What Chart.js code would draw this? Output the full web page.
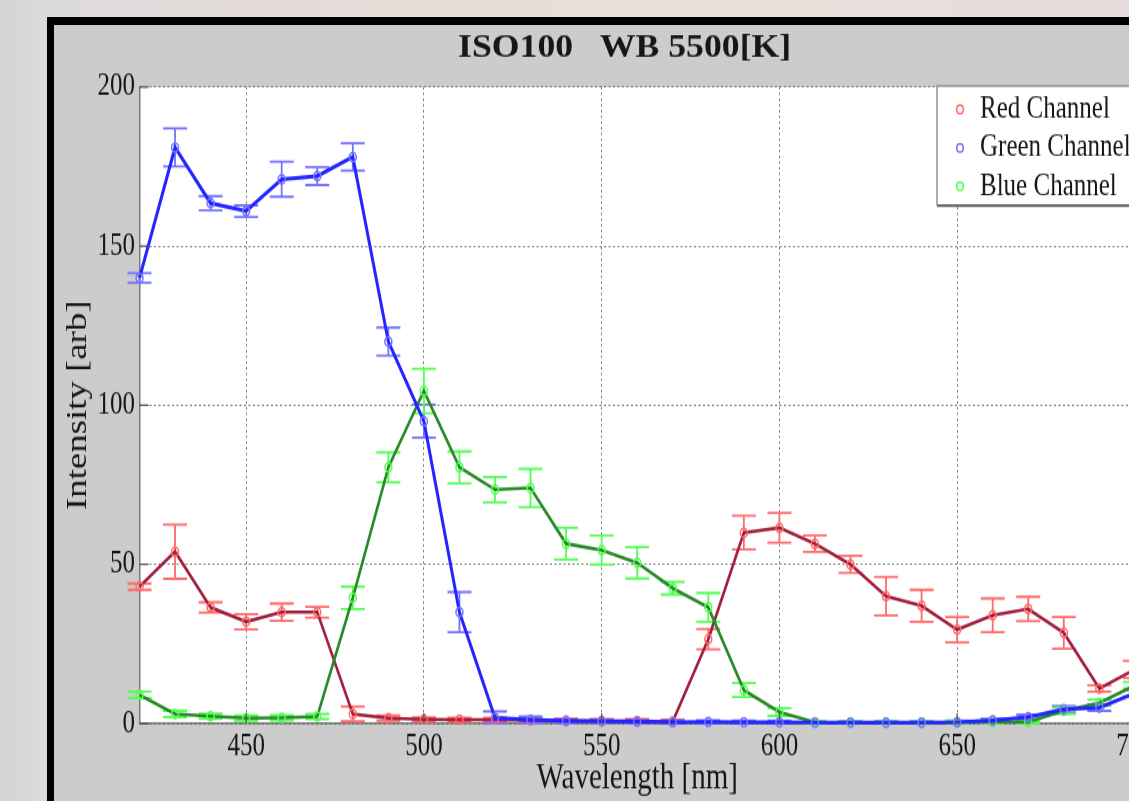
<!DOCTYPE html>
<html>
<head>
<meta charset="utf-8">
<script src="https://cdn.jsdelivr.net/npm/chart.js@4.4.0/dist/chart.umd.min.js"></script>
<style>
  html, body { margin: 0; padding: 0; width: 1129px; height: 801px; overflow: hidden; }
  body {
    position: relative;
    background: linear-gradient(to right, #d3d3d3 0px, #dcdada 40px, #e7dcd8 400px, #eadfdb 800px, #e4dcdb 1129px);
  }
  #frame {
    position: absolute; left: 47px; top: 17px; width: 1200px; height: 900px;
    background: #cccccc; border-left: 7px solid #000; border-top: 8px solid #000;
  }
  /* the source picture is stretched vertically, so the canvas is too */
  #chart {
    position: absolute; left: 0; top: 0; width: 1141px; height: 611px;
    transform: scaleY(1.27); transform-origin: 0 0;
  }
</style>
</head>
<body>
<div id="frame"><canvas id="chart" width="1141" height="611"></canvas></div>
<script>
// ---- data ----
const wavelengths = [420, 430, 440, 450, 460, 470, 480, 490, 500, 510, 520, 530, 540, 550, 560,
                     570, 580, 590, 600, 610, 620, 630, 640, 650, 660, 670, 680, 690, 700];
const xTicks = [450, 500, 550, 600, 650, 700];
const yTicks = [0, 50, 100, 150, 200];

const redChannel   = [43, 54, 36.5, 32, 35, 35, 3, 1.7, 1.3, 1.2, 1.2, 1.0, 0.9, 0.8, 0.8,
                      0.6, 26.5, 60, 61.5, 56.5, 50, 40, 37, 29.5, 34, 36, 28.5, 11, 17];
const redErr       = [1, 8.5, 1.6, 2.4, 2.7, 1.7, 2.3, 0.8, 0.6, 0.6, 0.6, 0.6, 0.6, 0.6, 0.6,
                      0.6, 3.2, 5.3, 4.7, 2.6, 2.7, 6, 5, 4, 5.3, 3.8, 5, 1, 2.7];

const greenChannel = [140, 181, 163.5, 161, 171, 172, 178, 120, 95, 35, 1.8, 1.2, 0.8, 0.7, 0.6,
                      0.4, 0.5, 0.4, 0.4, 0.3, 0.3, 0.3, 0.3, 0.4, 1, 2, 4.5, 5, 9.5];
const greenErr     = [1.5, 6, 2.2, 1.8, 5.5, 2.8, 4.3, 4.4, 5.2, 6.3, 2, 1, 0.5, 0.5, 0.5,
                      0.5, 0.5, 0.5, 0.5, 0.5, 0.5, 0.5, 0.5, 0.5, 0.5, 0.8, 1, 1, 1];

const blueChannel  = [9, 3, 2.3, 1.7, 1.8, 2.2, 39.5, 80.5, 104.5, 80.5, 73.5, 74, 56.5, 54.5, 50.5,
                      42.5, 36.5, 10.5, 3.6, 0.4, 0.3, 0.3, 0.3, 0.4, 0.5, 0.5, 4, 6.5, 12];
const blueErr      = [1, 1, 0.8, 0.8, 0.8, 0.8, 3.5, 4.7, 7, 5, 4, 6, 5, 4.6, 4.9,
                      2, 4.5, 2.2, 1.2, 0.4, 0.4, 0.4, 0.4, 0.4, 0.4, 0.4, 1, 1, 1];

const seriesNames = ['Red Channel', 'Green Channel', 'Blue Channel'];
const chartTitle = 'ISO100   WB 5500[K]';
const xTitle = 'Wavelength [nm]';
const yTitle = 'Intensity [arb]';

// ---- styling ----
const SERIF = '"Liberation Serif", "Times New Roman", serif';
const TEXT = '#161616';
const GRID = 'rgba(85,85,85,0.8)';
const AXIS = '#7a7a7a';

const makeSet = (label, vals, errs, line, light, width, order) => ({
    label,
    data: wavelengths.map((w, i) => ({ x: w, y: vals[i] })),
    errors: errs,
    lightColor: light,
    borderColor: line,
    borderWidth: width,
    pointRadius: 3.5,
    pointBorderWidth: 1.5,
    pointBorderColor: light,
    pointBackgroundColor: 'rgba(0,0,0,0)',
    tension: 0,
    clip: false,
    order
});

// white plot area
const plotBg = {
    id: 'plotBg',
    beforeDraw(chart) {
        const { ctx, chartArea: a } = chart;
        ctx.save();
        ctx.fillStyle = '#ffffff';
        ctx.fillRect(a.left, a.top, a.right - a.left, a.bottom - a.top);
        ctx.restore();
    }
};

// error bars from the errors arrays, through the chart scales
const errorBars = {
    id: 'errorBars',
    beforeDatasetsDraw(chart) {
        const { ctx, scales: { x, y } } = chart;
        ctx.save();
        chart.data.datasets.forEach(ds => {
            ctx.strokeStyle = ds.lightColor;
            ctx.lineWidth = 1.8;
            ds.data.forEach((p, i) => {
                const e = ds.errors[i];
                const px = x.getPixelForValue(p.x);
                const top = y.getPixelForValue(p.y + e);
                const bot = y.getPixelForValue(Math.max(p.y - e, 0));
                ctx.beginPath();
                ctx.moveTo(px, top); ctx.lineTo(px, bot);
                ctx.moveTo(px - 12, top); ctx.lineTo(px + 12, top);
                ctx.moveTo(px - 12, bot); ctx.lineTo(px + 12, bot);
                ctx.stroke();
            });
        });
        ctx.restore();
    }
};

// inward tick marks like matlab
const innerTicks = {
    id: 'innerTicks',
    afterDatasetsDraw(chart) {
        const { ctx, chartArea: a, scales: { x, y } } = chart;
        ctx.save();
        ctx.strokeStyle = '#555';
        ctx.lineWidth = 1.3;
        ctx.beginPath();
        yTicks.forEach(v => { const py = y.getPixelForValue(v); ctx.moveTo(a.left, py); ctx.lineTo(a.left + 9, py); });
        xTicks.forEach(v => { const px = x.getPixelForValue(v); ctx.moveTo(px, a.bottom); ctx.lineTo(px, a.bottom - 8); });
        ctx.stroke();
        ctx.restore();
    }
};

// boxed legend inside the top right corner
const boxLegend = {
    id: 'boxLegend',
    afterDraw(chart) {
        const { ctx, chartArea: a } = chart;
        const left = 883, top = a.top - 0.8, w = a.right - 4 - left, h = 93.7;
        ctx.save();
        ctx.fillStyle = '#fff';
        ctx.fillRect(left, top, w, h);
        ctx.strokeStyle = '#8c8c8c';
        ctx.lineWidth = 1.4;
        ctx.strokeRect(left, top, w, h);
        ctx.strokeStyle = '#5a5a5a';
        ctx.beginPath(); ctx.moveTo(left, top + h + 0.8); ctx.lineTo(left + w, top + h + 0.8); ctx.stroke();
        ctx.font = '25px ' + SERIF;
        ctx.textAlign = 'left';
        ctx.textBaseline = 'middle';
        chart.data.datasets.forEach((ds, i) => {
            const ry = top + 18.4 + i * 30.3;
            ctx.strokeStyle = ds.lightColor;
            ctx.lineWidth = 1.5;
            ctx.beginPath(); ctx.arc(left + 23, ry, 3.3, 0, Math.PI * 2); ctx.stroke();
            ctx.fillStyle = TEXT;
            ctx.fillText(ds.label, left + 43, ry);
        });
        ctx.restore();
    }
};

// title is not stretched in the source, so undo the page stretch for it
const flatTitle = {
    id: 'flatTitle',
    afterDraw(chart) {
        const { ctx } = chart;
        ctx.save();
        ctx.translate(570.6, 18.3);
        ctx.scale(1, 0.73);
        ctx.font = 'bold 35.7px ' + SERIF;
        ctx.fillStyle = TEXT;
        ctx.textAlign = 'center';
        ctx.textBaseline = 'middle';
        ctx.fillText(chartTitle, 0, 0);
        ctx.restore();
    }
};

new Chart(document.getElementById('chart'), {
    type: 'line',
    data: {
        datasets: [
            makeSet(seriesNames[0], redChannel, redErr, '#a21f3e', '#ff6a6a', 2.6, 2),
            makeSet(seriesNames[1], greenChannel, greenErr, '#2424ff', '#7474ff', 3, 0),
            makeSet(seriesNames[2], blueChannel, blueErr, '#268a26', '#52ff52', 2.6, 1)
        ]
    },
    options: {
        responsive: false,
        animation: false,
        devicePixelRatio: 1,
        layout: { padding: { left: 0, right: 60.1, top: 48.8, bottom: 0.6 } },
        plugins: { legend: { display: false }, title: { display: false }, tooltip: { enabled: false } },
        scales: {
            x: {
                type: 'linear', min: 420, max: 700,
                afterBuildTicks: s => { s.ticks = xTicks.map(v => ({ value: v })); },
                afterFit: s => { s.height = 60.4; },
                grid: { color: GRID, lineWidth: 1, drawTicks: false },
                border: { display: true, color: AXIS, width: 1.5, dash: [2, 2.5] },
                ticks: { font: { family: SERIF, size: 25 }, color: TEXT, padding: 3.5, maxRotation: 0 },
                title: { display: true, text: xTitle, font: { family: SERIF, size: 29 }, color: TEXT, padding: 0 }
            },
            y: {
                min: 0, max: 200,
                afterBuildTicks: s => { s.ticks = yTicks.map(v => ({ value: v })); },
                afterFit: s => { s.width = 85.5; },
                grid: { color: GRID, lineWidth: 1, drawTicks: false },
                border: { display: true, color: AXIS, width: 1.5, dash: [2, 2.5] },
                ticks: { font: { family: SERIF, size: 25 }, color: TEXT, padding: 4.5 },
                title: { display: true, text: yTitle, font: { family: SERIF, size: 29 }, color: TEXT, padding: { top: 7.1, bottom: 0 } }
            }
        }
    },
    plugins: [plotBg, errorBars, innerTicks, boxLegend, flatTitle]
});
</script>
</body>
</html>
